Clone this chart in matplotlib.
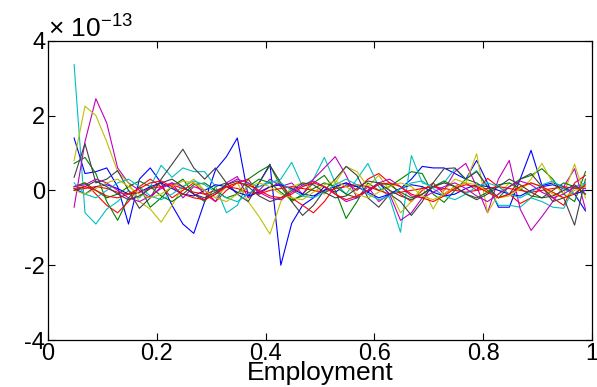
import numpy as np
import matplotlib.pyplot as plt
from matplotlib.ticker import FuncFormatter

# employment grid
employment = np.arange(48) * 0.02 + 0.048

# residuals, in units of 1e-13
blue1 = [1.40, 0.45, 0.50, 0.60, 0.10, -0.90, 0.30, 0.60, 0.20, -0.40, -0.90, -1.15,
         -0.30, 0.55, 0.90, 1.40, -0.15, 0.20, 0.70, -2.00, -0.88, -0.40, -0.20, 0.10,
         -0.05, 0.15, 0.10, -0.05, 0.20, -0.10, 0.05, 0.30, 0.64, 0.60, 0.60, 0.45,
         0.30, 0.80, 0.20, -0.45, -0.45, 0.30, 1.07, 0.13, 0.20, 0.10, -0.10, -0.55]
cyan1 = [3.36, -0.60, -0.90, -0.50, -0.30, 0.00, -0.20, 0.10, 0.67, 0.35, 0.60, 0.50,
         0.50, 0.10, -0.60, -0.40, 0.20, 0.10, 0.20, 0.30, 0.75, 0.10, 0.30, 0.88,
         0.20, -0.10, 0.30, 0.72, 0.10, -0.20, -1.12, 0.93, 0.20, 0.10, 0.20, 0.58,
         0.30, 0.53, 0.10, -0.40, -0.40, -0.45, -0.20, -0.30, -0.45, -0.48, 0.10, 0.20]
yellow1 = [0.80, 2.25, 2.00, 1.30, 0.50, 0.20, -0.30, -0.50, -0.85, -0.40, 0.10, 0.30,
           0.00, -0.20, 0.10, 0.20, -0.30, -0.70, -1.17, -0.30, 0.10, 0.20, 0.00, -0.10,
           0.20, 0.64, 0.50, 0.10, 0.40, 0.00, -0.60, -0.30, 0.10, -0.50, 0.00, 0.30,
           0.20, 0.98, -0.60, -0.10, 0.20, 0.00, 0.30, 0.72, 0.20, -0.10, 0.70, -0.20]
magenta1 = [-0.45, 1.30, 2.45, 1.80, 0.60, 0.20, 0.00, -0.20, 0.10, 0.20, -0.20, 0.10,
            0.00, -0.30, 0.20, 0.37, -0.20, 0.00, 0.30, 0.10, 0.20, -0.10, 0.30, 0.60,
            0.90, 0.40, -0.20, 0.10, -0.30, -0.10, -0.80, -0.60, -0.20, 0.10, 0.00, 0.50,
            0.72, 0.10, -0.60, 0.30, 0.80, -0.50, -1.07, -0.70, -0.30, 0.10, 0.58, -0.50]
gray1 = [0.35, 1.25, 0.20, 0.30, 0.53, 0.00, -0.48, -0.20, 0.30, 0.70, 1.10, 0.60,
         0.30, 0.60, 0.20, -0.10, -0.30, 0.20, 0.67, 0.20, -0.30, -0.67, -0.40, 0.00,
         0.30, 0.64, 0.40, -0.20, -0.45, -0.10, -0.30, -0.67, -0.30, 0.20, 0.58, 0.60,
         0.30, 0.50, 0.10, -0.20, -0.10, 0.30, 0.45, 0.10, -0.30, -0.20, -0.93, 0.30]
green1 = [0.72, 0.88, 0.45, -0.30, -0.80, -0.20, 0.10, -0.45, -0.20, 0.10, 0.30, -0.10,
          -0.30, 0.10, 0.20, -0.10, 0.30, 0.50, 0.67, 0.10, -0.30, -0.10, 0.20, 0.40,
          0.00, -0.75, -0.30, 0.20, 0.00, 0.10, 0.30, 0.50, 0.45, -0.10, -0.32, 0.00,
          0.30, 0.20, 0.00, -0.20, 0.10, 0.30, 0.40, 0.58, 0.30, -0.10, -0.30, 0.50]
red1 = [0.10, 0.20, -0.10, -0.40, -0.60, -0.30, 0.10, 0.30, 0.10, -0.20, 0.00, 0.20,
        -0.10, -0.30, 0.00, 0.20, 0.30, -0.10, 0.10, 0.20, -0.20, -0.40, -0.60, -0.30,
        0.10, 0.20, 0.00, 0.30, 0.45, 0.20, -0.10, -0.30, 0.00, 0.20, -0.10, 0.10,
        0.20, 0.00, 0.32, 0.10, -0.10, -0.35, -0.20, 0.10, -0.20, -0.40, 0.20, 0.40]

blue2 = [0.05, -0.10, 0.10, 0.15, 0.05, -0.10, -0.05, 0.10, 0.20, 0.05, -0.10, -0.15,
         0.00, 0.15, 0.10, -0.05, -0.15, -0.05, 0.10, 0.15, 0.05, -0.10, -0.15, 0.00,
         0.10, 0.20, 0.10, -0.05, -0.20, -0.10, 0.05, 0.15, 0.10, -0.05, -0.15, -0.10,
         0.05, 0.15, 0.10, 0.00, -0.10, -0.15, 0.00, 0.10, 0.15, 0.05, -0.10, 0.00]
green2 = [0.10, 0.20, 0.00, -0.20, -0.10, 0.10, 0.25, 0.10, -0.15, -0.30, -0.10, 0.15,
          0.20, 0.00, -0.20, -0.10, 0.10, 0.30, 0.20, -0.05, -0.25, -0.15, 0.05, 0.20,
          0.10, -0.10, -0.20, 0.00, 0.20, 0.15, -0.05, -0.20, -0.10, 0.10, 0.25, 0.10,
          -0.10, -0.20, -0.05, 0.15, 0.20, 0.05, -0.15, -0.20, 0.00, 0.20, 0.10, -0.10]
red2 = [0.00, 0.05, 0.10, 0.05, -0.05, -0.10, -0.05, 0.05, 0.10, 0.15, 0.05, -0.05,
        -0.10, 0.00, 0.10, 0.05, -0.05, -0.10, 0.00, 0.05, 0.10, 0.05, 0.00, -0.05,
        0.05, 0.10, 0.15, 0.10, 0.00, -0.10, -0.05, 0.00, 0.05, 0.10, 0.05, 0.00,
        -0.05, 0.00, 0.05, 0.10, 0.05, 0.00, -0.05, 0.00, 0.05, 0.10, 0.05, 0.10]
cyan2 = [0.20, -0.10, -0.20, 0.00, 0.20, 0.30, 0.10, -0.15, -0.25, -0.10, 0.10, 0.25,
         0.15, -0.05, -0.20, -0.30, -0.10, 0.10, 0.25, 0.20, 0.00, -0.15, -0.20, -0.05,
         0.15, 0.30, 0.15, -0.10, -0.25, -0.15, 0.05, 0.20, 0.25, 0.05, -0.15, -0.25,
         -0.10, 0.10, 0.20, 0.10, -0.10, -0.20, -0.05, 0.15, 0.25, 0.05, -0.10, 0.20]
magenta2 = [0.10, 0.15, 0.30, 0.20, 0.00, -0.20, -0.30, -0.15, 0.05, 0.20, 0.10, -0.10,
            -0.25, -0.10, 0.15, 0.30, 0.20, -0.05, -0.20, -0.25, -0.05, 0.15, 0.25, 0.10,
            -0.10, -0.30, -0.20, 0.00, 0.20, 0.30, 0.10, -0.15, -0.20, -0.05, 0.10, 0.20,
            0.05, -0.15, -0.30, -0.10, 0.10, 0.25, 0.15, -0.05, -0.20, -0.10, 0.10, 0.05]
yellow2 = [0.00, -0.10, 0.05, 0.20, 0.30, 0.10, -0.10, -0.20, -0.10, 0.10, 0.25, 0.20,
           0.00, -0.20, -0.30, -0.10, 0.10, 0.20, 0.10, -0.10, -0.20, -0.25, -0.05, 0.15,
           0.25, 0.10, -0.10, -0.20, -0.05, 0.10, 0.20, 0.10, -0.15, -0.25, -0.10, 0.10,
           0.20, 0.15, -0.05, -0.20, -0.15, 0.05, 0.20, 0.10, -0.10, -0.20, 0.00, 0.10]
gray2 = [0.00, 0.10, 0.25, 0.10, -0.10, -0.25, -0.15, 0.05, 0.20, 0.30, 0.10, -0.10,
         -0.20, -0.05, 0.15, 0.25, 0.10, -0.15, -0.30, -0.20, 0.00, 0.20, 0.15, -0.05,
         -0.20, -0.15, 0.05, 0.25, 0.20, 0.00, -0.15, -0.25, -0.10, 0.10, 0.20, 0.10,
         -0.10, -0.25, -0.10, 0.10, 0.30, 0.15, -0.05, -0.20, -0.15, 0.00, 0.15, -0.10]
red3 = [0.05, 0.10, 0.00, -0.15, -0.20, -0.10, 0.05, 0.20, 0.25, 0.10, -0.10, -0.20,
        -0.25, -0.10, 0.10, 0.20, 0.15, 0.00, -0.15, -0.20, -0.10, 0.10, 0.20, 0.10,
        -0.10, -0.25, -0.15, 0.00, 0.15, 0.20, 0.10, -0.10, -0.20, -0.30, -0.15, 0.05,
        0.15, 0.10, -0.05, -0.20, -0.10, 0.10, 0.20, 0.10, -0.05, -0.20, -0.10, 0.15]

# old matlab colour order
mb = (0, 0, 1)
mg = (0, 0.5, 0)
mr = (1, 0, 0)
mc = (0, 0.75, 0.75)
mm = (0.75, 0, 0.75)
my = (0.75, 0.75, 0)
mk = (0.25, 0.25, 0.25)

lines = [(blue1, mb), (green1, mg), (red1, mr), (cyan1, mc), (magenta1, mm),
         (yellow1, my), (gray1, mk),
         (blue2, mb), (green2, mg), (red2, mr), (cyan2, mc), (magenta2, mm),
         (yellow2, my), (gray2, mk), (red3, mr)]

plt.rcParams['font.family'] = ['Liberation Sans', 'DejaVu Sans']
plt.rcParams['mathtext.fontset'] = 'custom'
plt.rcParams['mathtext.rm'] = 'Liberation Sans'
plt.rcParams['axes.unicode_minus'] = True

fig = plt.figure(figsize=(5.97, 3.87), dpi=100)
ax = fig.add_axes([0.0804, 0.1214, 0.9112, 0.7734])

for vals, col in lines:
    ax.plot(employment, np.array(vals) * 1e-13, color=col, lw=0.8)

ax.set_xlim(0, 1)
ax.set_ylim(-4e-13, 4e-13)
ax.set_xticks([0, 0.2, 0.4, 0.6, 0.8, 1])
ax.set_xticklabels(['0', '0.2', '0.4', '0.6', '0.8', '1'])
ax.set_yticks(np.array([-4, -2, 0, 2, 4]) * 1e-13)
ax.yaxis.set_major_formatter(FuncFormatter(lambda v, p: '%d' % round(v * 1e13)))

ax.tick_params(direction='in', length=5, width=0.8, top=True, right=True,
               labelsize=17, pad=2)
for s in ax.spines.values():
    s.set_linewidth(0.9)

ax.set_xlabel('Employment', fontsize=19, labelpad=-3)
fig.text(0.08, 0.905, '\u00d7 10$^{\\mathregular{\u221213}}$', fontsize=19,
         ha='left', va='baseline')

fig.savefig('out.png', dpi=100)
